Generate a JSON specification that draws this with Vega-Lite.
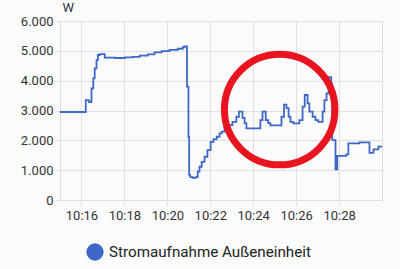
{
  "$schema": "https://vega.github.io/schema/vega-lite/v6.json",
  "width": 322,
  "height": 179,
  "autosize": {"type": "none"},
  "padding": {"left": 60, "top": 21, "right": 18, "bottom": 69},
  "background": "#fbfbfb",
  "config": {
    "view": {"stroke": "#dcdcdc", "strokeWidth": 1},
    "font": "Roboto",
    "axis": {
      "labelFont": "Roboto",
      "labelFontSize": 13,
      "labelColor": "#333333",
      "gridColor": "#e0e0e0",
      "gridWidth": 1,
      "tickColor": "#e0e0e0",
      "tickSize": 5,
      "domain": false
    }
  },
  "encoding": {
    "x": {
      "field": "t",
      "type": "temporal",
      "title": null,
      "scale": {"type": "utc", "nice": false},
      "axis": {
        "values": [
          {"year": 2024, "month": 1, "date": 1, "hours": 10, "minutes": 16, "utc": true},
          {"year": 2024, "month": 1, "date": 1, "hours": 10, "minutes": 18, "utc": true},
          {"year": 2024, "month": 1, "date": 1, "hours": 10, "minutes": 20, "utc": true},
          {"year": 2024, "month": 1, "date": 1, "hours": 10, "minutes": 22, "utc": true},
          {"year": 2024, "month": 1, "date": 1, "hours": 10, "minutes": 24, "utc": true},
          {"year": 2024, "month": 1, "date": 1, "hours": 10, "minutes": 26, "utc": true},
          {"year": 2024, "month": 1, "date": 1, "hours": 10, "minutes": 28, "utc": true}
        ],
        "format": "%H:%M",
        "formatType": "utc",
        "labelPadding": 4,
        "labelFlush": false
      }
    },
    "y": {
      "field": "w",
      "type": "quantitative",
      "scale": {"domain": [0, 6000], "nice": false},
      "axis": {
        "values": [0, 1000, 2000, 3000, 4000, 5000, 6000],
        "labelExpr": "replace(format(datum.value, ','), ',', '.')",
        "labelPadding": 2,
        "title": "W",
        "titleAngle": 0,
        "titleX": 2,
        "titleY": -10,
        "titleAlign": "left",
        "titleBaseline": "alphabetic",
        "titleFont": "Roboto",
        "titleFontSize": 13,
        "titleFontWeight": "normal",
        "titleColor": "#333333"
      }
    }
  },
  "layer": [
    {
      "data": {"values": [
        {"t": "2024-01-01T10:15:00Z", "w": 2950, "s": "Stromaufnahme Außeneinheit"},
        {"t": "2024-01-01T10:16:12Z", "w": 3350, "s": "Stromaufnahme Außeneinheit"},
        {"t": "2024-01-01T10:16:21Z", "w": 3280, "s": "Stromaufnahme Außeneinheit"},
        {"t": "2024-01-01T10:16:28Z", "w": 3740, "s": "Stromaufnahme Außeneinheit"},
        {"t": "2024-01-01T10:16:33Z", "w": 4080, "s": "Stromaufnahme Außeneinheit"},
        {"t": "2024-01-01T10:16:37Z", "w": 4410, "s": "Stromaufnahme Außeneinheit"},
        {"t": "2024-01-01T10:16:42Z", "w": 4690, "s": "Stromaufnahme Außeneinheit"},
        {"t": "2024-01-01T10:16:46Z", "w": 4860, "s": "Stromaufnahme Außeneinheit"},
        {"t": "2024-01-01T10:16:51Z", "w": 4890, "s": "Stromaufnahme Außeneinheit"},
        {"t": "2024-01-01T10:17:05Z", "w": 4770, "s": "Stromaufnahme Außeneinheit"},
        {"t": "2024-01-01T10:17:33Z", "w": 4760, "s": "Stromaufnahme Außeneinheit"},
        {"t": "2024-01-01T10:18:01Z", "w": 4780, "s": "Stromaufnahme Außeneinheit"},
        {"t": "2024-01-01T10:18:23Z", "w": 4800, "s": "Stromaufnahme Außeneinheit"},
        {"t": "2024-01-01T10:18:43Z", "w": 4840, "s": "Stromaufnahme Außeneinheit"},
        {"t": "2024-01-01T10:19:05Z", "w": 4880, "s": "Stromaufnahme Außeneinheit"},
        {"t": "2024-01-01T10:19:24Z", "w": 4950, "s": "Stromaufnahme Außeneinheit"},
        {"t": "2024-01-01T10:19:44Z", "w": 4990, "s": "Stromaufnahme Außeneinheit"},
        {"t": "2024-01-01T10:20:06Z", "w": 5030, "s": "Stromaufnahme Außeneinheit"},
        {"t": "2024-01-01T10:20:29Z", "w": 5070, "s": "Stromaufnahme Außeneinheit"},
        {"t": "2024-01-01T10:20:43Z", "w": 5120, "s": "Stromaufnahme Außeneinheit"},
        {"t": "2024-01-01T10:20:48Z", "w": 5150, "s": "Stromaufnahme Außeneinheit"},
        {"t": "2024-01-01T10:20:55Z", "w": 3800, "s": "Stromaufnahme Außeneinheit"},
        {"t": "2024-01-01T10:20:59Z", "w": 2120, "s": "Stromaufnahme Außeneinheit"},
        {"t": "2024-01-01T10:21:01Z", "w": 840, "s": "Stromaufnahme Außeneinheit"},
        {"t": "2024-01-01T10:21:04Z", "w": 770, "s": "Stromaufnahme Außeneinheit"},
        {"t": "2024-01-01T10:21:11Z", "w": 740, "s": "Stromaufnahme Außeneinheit"},
        {"t": "2024-01-01T10:21:19Z", "w": 770, "s": "Stromaufnahme Außeneinheit"},
        {"t": "2024-01-01T10:21:25Z", "w": 950, "s": "Stromaufnahme Außeneinheit"},
        {"t": "2024-01-01T10:21:30Z", "w": 1115, "s": "Stromaufnahme Außeneinheit"},
        {"t": "2024-01-01T10:21:36Z", "w": 1280, "s": "Stromaufnahme Außeneinheit"},
        {"t": "2024-01-01T10:21:44Z", "w": 1450, "s": "Stromaufnahme Außeneinheit"},
        {"t": "2024-01-01T10:21:52Z", "w": 1675, "s": "Stromaufnahme Außeneinheit"},
        {"t": "2024-01-01T10:22:01Z", "w": 1950, "s": "Stromaufnahme Außeneinheit"},
        {"t": "2024-01-01T10:22:09Z", "w": 2040, "s": "Stromaufnahme Außeneinheit"},
        {"t": "2024-01-01T10:22:18Z", "w": 2120, "s": "Stromaufnahme Außeneinheit"},
        {"t": "2024-01-01T10:22:26Z", "w": 2230, "s": "Stromaufnahme Außeneinheit"},
        {"t": "2024-01-01T10:22:32Z", "w": 2290, "s": "Stromaufnahme Außeneinheit"},
        {"t": "2024-01-01T10:22:40Z", "w": 2455, "s": "Stromaufnahme Außeneinheit"},
        {"t": "2024-01-01T10:22:51Z", "w": 2510, "s": "Stromaufnahme Außeneinheit"},
        {"t": "2024-01-01T10:23:02Z", "w": 2620, "s": "Stromaufnahme Außeneinheit"},
        {"t": "2024-01-01T10:23:13Z", "w": 2790, "s": "Stromaufnahme Außeneinheit"},
        {"t": "2024-01-01T10:23:20Z", "w": 2960, "s": "Stromaufnahme Außeneinheit"},
        {"t": "2024-01-01T10:23:30Z", "w": 2750, "s": "Stromaufnahme Außeneinheit"},
        {"t": "2024-01-01T10:23:36Z", "w": 2580, "s": "Stromaufnahme Außeneinheit"},
        {"t": "2024-01-01T10:23:41Z", "w": 2400, "s": "Stromaufnahme Außeneinheit"},
        {"t": "2024-01-01T10:24:20Z", "w": 2680, "s": "Stromaufnahme Außeneinheit"},
        {"t": "2024-01-01T10:24:26Z", "w": 2960, "s": "Stromaufnahme Außeneinheit"},
        {"t": "2024-01-01T10:24:35Z", "w": 2680, "s": "Stromaufnahme Außeneinheit"},
        {"t": "2024-01-01T10:24:42Z", "w": 2580, "s": "Stromaufnahme Außeneinheit"},
        {"t": "2024-01-01T10:24:48Z", "w": 2500, "s": "Stromaufnahme Außeneinheit"},
        {"t": "2024-01-01T10:25:19Z", "w": 2790, "s": "Stromaufnahme Außeneinheit"},
        {"t": "2024-01-01T10:25:26Z", "w": 3200, "s": "Stromaufnahme Außeneinheit"},
        {"t": "2024-01-01T10:25:33Z", "w": 3080, "s": "Stromaufnahme Außeneinheit"},
        {"t": "2024-01-01T10:25:39Z", "w": 2790, "s": "Stromaufnahme Außeneinheit"},
        {"t": "2024-01-01T10:25:44Z", "w": 2620, "s": "Stromaufnahme Außeneinheit"},
        {"t": "2024-01-01T10:25:52Z", "w": 2570, "s": "Stromaufnahme Außeneinheit"},
        {"t": "2024-01-01T10:26:09Z", "w": 2680, "s": "Stromaufnahme Außeneinheit"},
        {"t": "2024-01-01T10:26:18Z", "w": 3130, "s": "Stromaufnahme Außeneinheit"},
        {"t": "2024-01-01T10:26:24Z", "w": 3520, "s": "Stromaufnahme Außeneinheit"},
        {"t": "2024-01-01T10:26:32Z", "w": 3240, "s": "Stromaufnahme Außeneinheit"},
        {"t": "2024-01-01T10:26:37Z", "w": 2960, "s": "Stromaufnahme Außeneinheit"},
        {"t": "2024-01-01T10:26:46Z", "w": 2790, "s": "Stromaufnahme Außeneinheit"},
        {"t": "2024-01-01T10:26:54Z", "w": 2680, "s": "Stromaufnahme Außeneinheit"},
        {"t": "2024-01-01T10:27:02Z", "w": 2620, "s": "Stromaufnahme Außeneinheit"},
        {"t": "2024-01-01T10:27:14Z", "w": 2960, "s": "Stromaufnahme Außeneinheit"},
        {"t": "2024-01-01T10:27:19Z", "w": 3350, "s": "Stromaufnahme Außeneinheit"},
        {"t": "2024-01-01T10:27:25Z", "w": 3575, "s": "Stromaufnahme Außeneinheit"},
        {"t": "2024-01-01T10:27:31Z", "w": 4120, "s": "Stromaufnahme Außeneinheit"},
        {"t": "2024-01-01T10:27:38Z", "w": 3900, "s": "Stromaufnahme Außeneinheit"},
        {"t": "2024-01-01T10:27:41Z", "w": 2010, "s": "Stromaufnahme Außeneinheit"},
        {"t": "2024-01-01T10:27:50Z", "w": 1030, "s": "Stromaufnahme Außeneinheit"},
        {"t": "2024-01-01T10:27:55Z", "w": 1480, "s": "Stromaufnahme Außeneinheit"},
        {"t": "2024-01-01T10:28:20Z", "w": 1530, "s": "Stromaufnahme Außeneinheit"},
        {"t": "2024-01-01T10:28:26Z", "w": 1900, "s": "Stromaufnahme Außeneinheit"},
        {"t": "2024-01-01T10:28:57Z", "w": 1930, "s": "Stromaufnahme Außeneinheit"},
        {"t": "2024-01-01T10:29:22Z", "w": 1930, "s": "Stromaufnahme Außeneinheit"},
        {"t": "2024-01-01T10:29:25Z", "w": 1580, "s": "Stromaufnahme Außeneinheit"},
        {"t": "2024-01-01T10:29:36Z", "w": 1700, "s": "Stromaufnahme Außeneinheit"},
        {"t": "2024-01-01T10:29:50Z", "w": 1790, "s": "Stromaufnahme Außeneinheit"},
        {"t": "2024-01-01T10:30:00Z", "w": 1790, "s": "Stromaufnahme Außeneinheit"}
      ]},
      "mark": {"type": "line", "interpolate": "step-after", "strokeWidth": 1.8},
      "encoding": {
        "color": {
          "field": "s",
          "type": "nominal",
          "scale": {"range": ["#3e68c8"]},
          "legend": {
            "title": null,
            "orient": "none",
            "legendX": 26,
            "legendY": 222,
            "padding": 0,
            "symbolType": "circle",
            "symbolSize": 300,
            "symbolFillColor": "#3e68c8",
            "symbolStrokeWidth": 0,
            "labelFont": "Roboto",
            "labelFontSize": 15.2,
            "labelColor": "#222222",
            "labelOffset": 5,
            "labelLimit": 0
          }
        }
      }
    },
    {
      "data": {"values": [
        {"t": "2024-01-01T10:25:14Z", "w": 3030}
      ]},
      "mark": {"type": "point", "shape": "circle", "filled": false, "size": 12210, "stroke": "#e8141f", "strokeWidth": 7, "opacity": 1}
    }
  ]
}
